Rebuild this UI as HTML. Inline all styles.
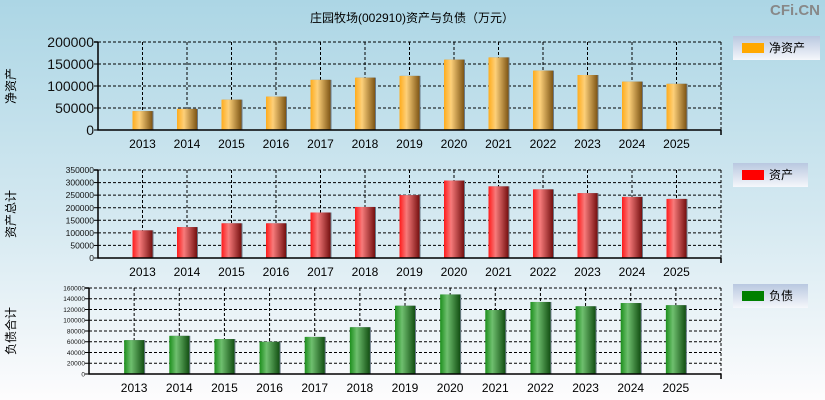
<!DOCTYPE html>
<html><head><meta charset="utf-8">
<style>
html,body{margin:0;padding:0}
body{width:825px;height:400px;overflow:hidden;background:linear-gradient(#acd6e5 0%,#d5e9f1 55%,#fdfcfd 100%);font-family:"Liberation Sans","Noto Sans CJK SC",sans-serif}
svg{position:absolute;left:0;top:0}
</style></head>
<body>
<svg id="c" width="825" height="400" xmlns="http://www.w3.org/2000/svg">
<defs>
<linearGradient id="gO" x1="0" x2="1"><stop offset="0" stop-color="#ffac1c"/><stop offset="0.35" stop-color="#fdd07a"/><stop offset="1" stop-color="#7e5514"/></linearGradient>
<linearGradient id="gR" x1="0" x2="1"><stop offset="0" stop-color="#ff1a1a"/><stop offset="0.35" stop-color="#f77b7b"/><stop offset="1" stop-color="#751010"/></linearGradient>
<linearGradient id="gG" x1="0" x2="1"><stop offset="0" stop-color="#1c8f1c"/><stop offset="0.35" stop-color="#6fbf6f"/><stop offset="1" stop-color="#124f12"/></linearGradient>
<linearGradient id="gL" x1="0" x2="0" y1="0" y2="1"><stop offset="0" stop-color="#b9c8e0"/><stop offset="1" stop-color="#f5f7fb"/></linearGradient>
</defs>
<text x="412" y="22" font-size="12" text-anchor="middle">庄园牧场(002910)资产与负债（万元）</text>
<text x="820" y="15" font-size="15" font-weight="bold" fill="#888" text-anchor="end">CFi.CN</text>
</svg>
<script>
const years=['2013','2014','2015','2016','2017','2018','2019','2020','2021','2022','2023','2024','2025'];
const netAssets=[43000,48000,69000,76000,114000,119000,123000,160000,165000,135000,125000,110000,105000];
const totalAssets=[110000,123000,138000,138000,181000,203000,250000,308000,285000,273000,258000,243000,235000];
const liabilities=[63000,71000,65000,60000,69000,87000,127000,148000,119000,134000,126000,132000,128000];
const ticks1=[0,50000,100000,150000,200000];
const ticks2=[0,50000,100000,150000,200000,250000,300000,350000];
const ticks3=[0,20000,40000,60000,80000,100000,120000,140000,160000];
const NS='http://www.w3.org/2000/svg';
const svg=document.getElementById('c');
function mk(tag,attrs,parent){const e=document.createElementNS(NS,tag);for(const k in attrs)e.setAttribute(k,attrs[k]);(parent||svg).appendChild(e);return e;}
function panel(p){
  const g=mk('g',{});
  
  
  const max=p.ticks[p.ticks.length-1];
  const y=v=>p.y1-(v/max)*(p.y1-p.y0);
  const step=(p.x1-p.x0)/14;
  const x=i=>p.x0+step*(i+1);
  p.ticks.forEach(t=>{
    if(t>0){const l=mk('line',{x1:p.x0,x2:p.x1,y1:y(t),y2:y(t),stroke:'#000','stroke-dasharray':'3,2','stroke-width':1},g);
    }
    const tx=mk('text',{x:p.x0-4,y:y(t)+p.fs*0.36,'font-size':p.fs,'text-anchor':'end',fill:p.tc},g);
    
    tx.textContent=t;
  });
  years.forEach((yr,i)=>{
    const l=mk('line',{x1:x(i),x2:x(i),y1:p.y0,y2:p.y1,stroke:'#000','stroke-dasharray':'3,2'},g);
    
  });
  mk('line',{x1:p.x1,x2:p.x1,y1:p.y0,y2:p.y1,stroke:'#000','stroke-dasharray':'3,2'},g);
  years.forEach((yr,i)=>{
    const v=p.data[i];
    const sh=mk('rect',{x:x(i)-10+1,y:y(v),width:20,height:p.y1-y(v),fill:'#6a7a88'},g);
    
    const b=mk('rect',{x:x(i)-10,y:y(v),width:20,height:p.y1-y(v),fill:p.grad},g);
    
    const t=mk('text',{x:x(i),y:p.y1+18,'font-size':12,'text-anchor':'middle'},g);
    
    t.textContent=yr;
  });
  const ax=mk('path',{d:`M${p.x0},${p.y0} V${p.y1} H${p.x1} M${p.x1},${p.y1} v5 M${p.x0-4},${p.y0} h4`,stroke:'#000','stroke-width':1.5,fill:'none'},g);
  
  p.ticks.forEach(t=>mk('line',{x1:p.x0-4,x2:p.x0,y1:y(t),y2:y(t),stroke:'#000'},g));
  const yt=mk('text',{x:0,y:0,'font-size':12,'text-anchor':'middle',transform:`translate(${p.ytx},${(p.y0+p.y1)/2}) rotate(-90)`},g);
  
  yt.textContent=p.title;
  const lg=mk('g',{},g);
  
  mk('rect',{x:733,y:p.ly,width:p.lw,height:24,fill:'url(#gL)'},lg);
  mk('rect',{x:742,y:p.ly+7,width:22,height:10,fill:p.lc},lg);
  const lt=mk('text',{x:769,y:p.ly+16,'font-size':12},lg);
  lt.textContent=p.legend;
}
panel({name:'net-assets-panel',x0:98,x1:721,y0:42,y1:130,ticks:ticks1,data:netAssets,fs:14,tc:'#111',grad:'url(#gO)',title:'净资产',ytx:15,ly:36,lw:87,lc:'#ffa800',legend:'净资产'});
panel({name:'total-assets-panel',x0:98,x1:721,y0:170,y1:258,ticks:ticks2,data:totalAssets,fs:8.5,tc:'#111',grad:'url(#gR)',title:'资产总计',ytx:15,ly:163,lw:75,lc:'#ff0000',legend:'资产'});
panel({name:'liabilities-panel',x0:89,x1:721,y0:288,y1:374,ticks:ticks3,data:liabilities,fs:6.5,tc:'#111',grad:'url(#gG)',title:'负债合计',ytx:15,ly:284,lw:75,lc:'#008000',legend:'负债'});
</script>
</body></html>
